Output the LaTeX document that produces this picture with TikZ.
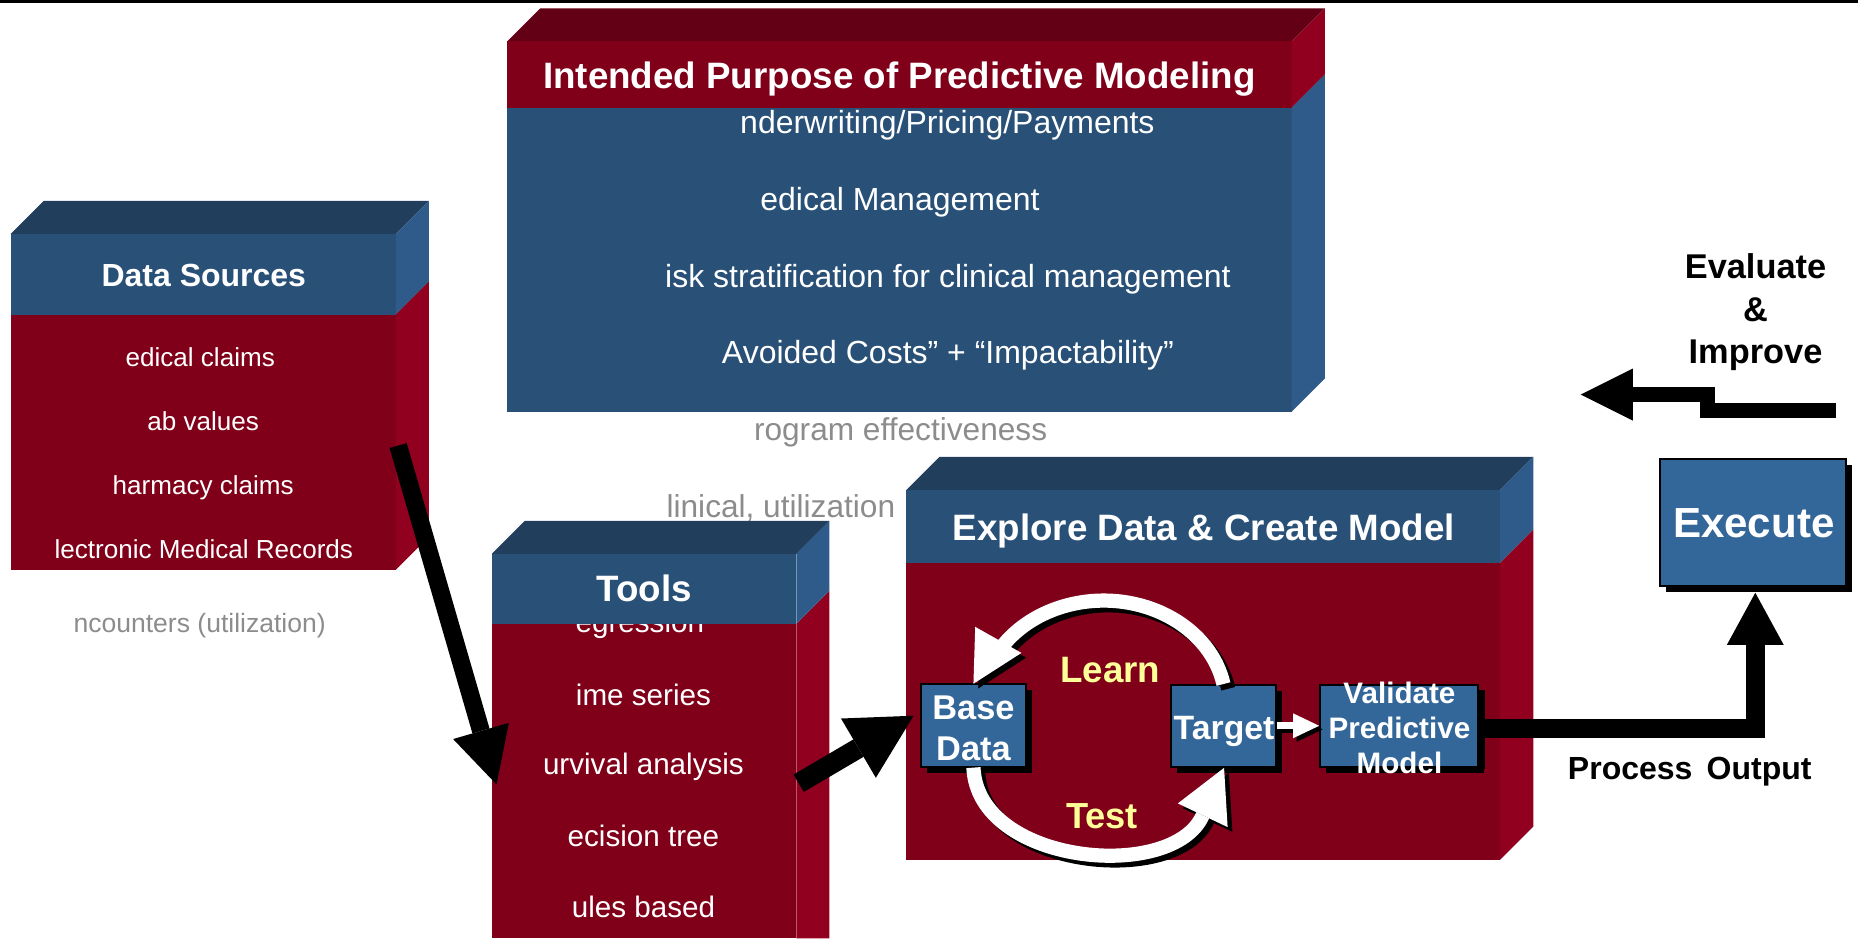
\documentclass[tikz,border=0pt]{standalone}
\usepackage{fontspec}
\setmainfont{Liberation Sans}
\usetikzlibrary{arrows.meta,shadows}
\definecolor{redF}{RGB}{128,0,26}
\definecolor{redS}{RGB}{146,0,32}
\definecolor{redT}{RGB}{99,0,22}
\definecolor{bluF}{RGB}{41,80,119}
\definecolor{bluS}{RGB}{46,91,137}
\definecolor{bluT}{RGB}{33,62,93}
\definecolor{boxB}{RGB}{51,102,153}
\definecolor{yel}{RGB}{255,255,153}
\definecolor{offgray}{RGB}{140,140,140}
\tikzset{
  lb/.style={inner sep=0pt, anchor=base, text=white},
  hdr/.style={lb, font=\bfseries\fontsize{#1}{#1}\selectfont},
  itm/.style={lb, font=\fontsize{#1}{#1}\selectfont},
  off/.style={inner sep=0pt, anchor=base, text=offgray, font=\fontsize{#1}{#1}\selectfont},
  cbox/.style={draw=black, line width=1.5pt, fill=boxB, inner sep=0pt,
    drop shadow={shadow xshift=5pt, shadow yshift=-5pt, fill=black, opacity=1}},
  blk/.style={draw=black, line join=miter},
  arcw/.style={draw=white, line width=12pt},
  arcb/.style={draw=black, line width=12pt}
}
\begin{document}
\begin{tikzpicture}[x=1pt,y=-1pt]
\useasboundingbox (0,0) rectangle (1568,792);
\fill[black] (0,0) rectangle (1568,2.8);

% ---------- Intended Purpose box ----------
\fill[redT] (428,35) -- (456,7) -- (1118,7) -- (1090,35) -- cycle;
\fill[redF] (428,35) rectangle (1090,91);
\fill[bluF] (428,91) rectangle (1090,347.5);
\fill[redS] (1090,35) -- (1118,7) -- (1118,63) -- (1090,91) -- cycle;
\fill[bluS] (1090,91) -- (1118,63) -- (1118,319.5) -- (1090,347.5) -- cycle;
\node[hdr=31] (ipTitle) at (759,75) {Intended Purpose of Predictive Modeling};
\node[itm=27] (ip1) at (799.5,112.7) {nderwriting/Pricing/Payments};
\node[itm=27] (ip2) at (759.5,177.7) {edical Management};
\node[itm=27] (ip3) at (800,242.7) {isk stratification for clinical management};
\node[itm=27] (ip4) at (800,306.7) {Avoided Costs” + “Impactability”};
\node[off=26.7] (ip5) at (760,371.6) {rogram effectiveness};
\node[off=26.7] (ip6) at (659,436.6) {linical, utilization};

% ---------- Data Sources box ----------
\fill[bluT] (9,197.5) -- (37,169.5) -- (362,169.5) -- (334,197.5) -- cycle;
\fill[bluF] (9,197.5) rectangle (334,265.5);
\fill[redF] (9,265.5) rectangle (334,481);
\fill[bluS] (334,197.5) -- (362,169.5) -- (362,237.5) -- (334,265.5) -- cycle;
\fill[redS] (334,265.5) -- (362,237.5) -- (362,453) -- (334,481) -- cycle;
\node[hdr=27] (dsTitle) at (172,241.5) {Data Sources};
\node[itm=22] (ds1) at (169,309) {edical claims};
\node[itm=22] (ds2) at (171.5,363) {ab values};
\node[itm=22] (ds3) at (171.5,417) {harmacy claims};
\node[itm=22] (ds4) at (172,471) {lectronic Medical Records};
\node[off=22.4] (ds5) at (168.5,534) {ncounters (utilization)};

% ---------- Tools box ----------
\fill[bluT] (415,467.5) -- (443,439.5) -- (700,439.5) -- (672,467.5) -- cycle;
\fill[redF] (415,526.5) rectangle (672,792);
\fill[redS] (672,526.5) -- (700,498.5) -- (700,792) -- (672,792) -- cycle;
\node[itm=25] (tl0) at (540,534) {egression};
\fill[bluF] (415,467.5) rectangle (672,526.5);
\fill[bluS] (672,467.5) -- (700,439.5) -- (700,498.5) -- (672,526.5) -- cycle;
\node[hdr=31] (tlTitle) at (543.5,508) {Tools};
\node[itm=25] (tl1) at (543,595) {ime series};
\node[itm=25] (tl2) at (543,654) {urvival analysis};
\node[itm=25] (tl3) at (543,714) {ecision tree};
\node[itm=25] (tl4) at (543,774) {ules based};

% ---------- Explore box ----------
\fill[bluT] (765,413.5) -- (793,385.5) -- (1294,385.5) -- (1266,413.5) -- cycle;
\fill[bluF] (765,413.5) rectangle (1266,475);
\fill[redF] (765,475) rectangle (1266,725.5);
\fill[bluS] (1266,413.5) -- (1294,385.5) -- (1294,447) -- (1266,475) -- cycle;
\fill[redS] (1266,475) -- (1294,447) -- (1294,697.5) -- (1266,725.5) -- cycle;
\node[hdr=31] (exTitle) at (1016,456) {Explore Data \& Create Model};

% ---------- coordinates for free connector ends ----------
\coordinate (dsOut) at (336,376);
\coordinate (tlIn) at (419,662);
\coordinate (tlOut) at (674,661);
\coordinate (bsIn) at (771,604);
\coordinate (evStart) at (1549,346.5);
\coordinate (evTip) at (1334,333);

% ---------- black arrows ----------
\draw[blk, line width=15pt, -{Triangle[length=47pt,width=49pt,line width=0pt]}] (dsOut) -- (tlIn);
\draw[blk, line width=17pt, -{Triangle[length=54pt,width=58pt,line width=0pt]}] (tlOut) -- (bsIn);
\draw[blk, line width=12.5pt, -{Triangle[length=44pt,width=44pt,line width=0pt]}]
  (evStart) -- ++(-108,0) -- ++(0,-13.5) -- (evTip);

% ---------- cycle boxes ----------
\node[cbox, minimum width=89pt, minimum height=69.5pt] (base) at (821.5,612.3) {};
\node[cbox, minimum width=89pt, minimum height=69pt] (target) at (1032.5,612.5) {};
\node[cbox, minimum width=133.5pt, minimum height=69pt] (validate) at (1180.75,612.5) {};
\node[cbox, minimum width=157pt, minimum height=107pt] (execute) at (1479.3,441) {};

% Process output arrow
\draw[blk, line width=16pt, -{Triangle[length=44pt,width=48pt,line width=0pt]}]
  ([shift={(1,2.5)}]validate.east) -| ([shift={(2,5)}]execute.south);
\fill[black] ([shift={(5,5)}]validate.north east) rectangle ([shift={(-1,1)}]validate.south east);

% Learn arc (Target -> Base Data)
\draw[arcb] ([shift={(4,4)}]target.north) arc[start angle=-11, end angle=-145, x radius=103, y radius=87];
\fill[black] (825.5,581) -- (827,533) -- (866,555) -- cycle;
\draw[arcw] (target.north) arc[start angle=-11, end angle=-145, x radius=103, y radius=87];
\fill[white] (821.5,577) -- (823,529) -- (862,551) -- cycle;

% Test arc (Base Data -> Target)
\coordinate (tA) at (825,730);
\coordinate (tB) at (990,745);
\coordinate (tE) at (1015,688);
\draw[arcb] ([shift={(4,4)}]base.south) .. controls ([shift={(4,4)}]tA) and ([shift={(4,4)}]tB) .. ([shift={(4,4)}]tE);
\fill[black] (1037,652) -- (998,682) -- (1040,702) -- cycle;
\draw[arcw] (base.south) .. controls (tA) and (tB) .. (tE);
\fill[white] (1033,648) -- (994,678) -- (1036,698) -- cycle;

% Target -> Validate
\draw[black, line width=6pt, -{Triangle[length=22pt,width=21pt,line width=0pt]}]
  ([shift={(3,3)}]target.east) -- ([shift={(3,3)}]validate.west);
\draw[white, line width=6pt, -{Triangle[length=22pt,width=21pt,line width=0pt]}]
  (target.east) -- (validate.west);

% labels in cycle
\node[hdr=29, anchor=center, align=center, font=\bfseries\fontsize{29}{35}\selectfont] (baseTxt) at (821.5,614.5) {Base\\Data};
\node[hdr=28.5] (targetTxt) at (1033,624) {Target};
\node[hdr=25, anchor=center, align=center, font=\bfseries\fontsize{25}{29.5}\selectfont] (valTxt) at (1181,614.4) {Validate\\Predictive\\Model};
\node[hdr=31, text=yel] (learnTxt) at (937,576) {Learn};
\node[hdr=30.6, text=yel] (testTxt) at (930,699) {Test};
\node[hdr=35.5] (exeTxt) at (1480,454) {Execute};

% right-side black labels
\node[inner sep=0pt, anchor=center, align=center, text=black, font=\bfseries\fontsize{29}{35.5}\selectfont] (evalTxt) at (1481.5,263.4) {Evaluate\\\&\\Improve};
\node[inner sep=0pt, anchor=base, text=black, font=\bfseries\fontsize{27}{27}\selectfont] (procTxt) at (1426,657.7) {Process\, Output};
\end{tikzpicture}
\end{document}
